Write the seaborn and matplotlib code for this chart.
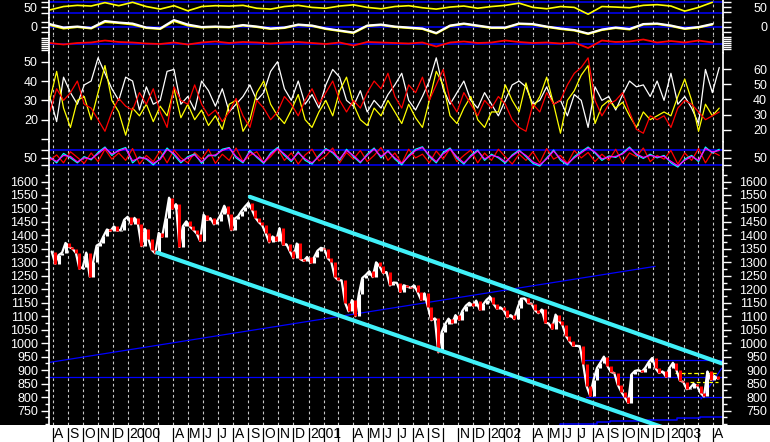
import matplotlib
matplotlib.use("Agg")
import matplotlib.pyplot as plt
import matplotlib.dates as mdates
import matplotlib.transforms as mtransforms
import seaborn as sns
import numpy as np
import pandas as pd
from matplotlib.patches import Rectangle
from matplotlib.lines import Line2D

# ---- price: weekly closes, Jul 30 1999 .. Apr 11 2003 ----
close = [
    # 1999
    1340, 1295, 1327, 1336, 1372, 1357, 1351, 1335, 1277, 1282, 1336, 1247, 1301, 1362,
    1370, 1397, 1422, 1416, 1433, 1417, 1421, 1458, 1469,
    # 2000
    1441, 1465, 1441, 1360, 1424, 1387, 1346, 1333, 1409, 1395, 1464, 1540, 1499,
    1516, 1357, 1434, 1452, 1433, 1421, 1407, 1379, 1477, 1457, 1464, 1441, 1455,
    1478, 1510, 1481, 1419, 1462, 1471, 1491, 1507, 1521, 1495, 1466, 1449, 1437,
    1408, 1374, 1396, 1379, 1427, 1365, 1367, 1341, 1315, 1370, 1312, 1305, 1320,
    # 2001
    1298, 1318, 1343, 1354, 1350, 1315, 1302, 1246, 1234, 1233, 1150, 1118, 1160,
    1100, 1183, 1242, 1253, 1267, 1245, 1300, 1285, 1260, 1264, 1214, 1225, 1224,
    1190, 1215, 1210, 1205, 1214, 1190, 1161, 1185, 1134, 1085, 1092, 966, 1041,
    1071, 1091, 1073, 1104, 1087, 1120, 1139, 1150, 1139, 1158, 1124, 1144, 1161,
    # 2002
    1172, 1146, 1128, 1133, 1122, 1096, 1104, 1089, 1132, 1165, 1166, 1148, 1147,
    1122, 1111, 1125, 1076, 1073, 1054, 1106, 1083, 1067, 1027, 1007, 990, 990,
    989, 921, 840, 805, 864, 908, 928, 950, 916, 893, 889, 846, 820,
    800, 778, 884, 897, 900, 894, 909, 930, 945, 906, 889, 895, 875,
    # 2003
    908, 927, 901, 861, 856, 829, 834, 849, 841, 815, 802, 895, 863, 878, 868,
]

# ---- trend lines drawn on the price panel ----
upper_chan_dates = ["2000-09-04", "2003-04-19"]
upper_chan_vals = [1543, 925]
lower_chan_dates = ["2000-02-29", "2002-12-20"]
lower_chan_vals = [1336, 688]
rising_dates = ["1999-07-20", "2002-12-05"]
rising_vals = [927, 1285]
mid_line_dates = ["1999-07-20", "2003-04-25"]
mid_line_vals = [873, 873]
top_line_dates = ["2002-07-10", "2003-04-25"]
top_line_vals = [936, 936]
low_line_dates = ["2002-07-18", "2003-04-25"]
low_line_vals = [799, 799]
short_up_dates = ["2003-03-08", "2003-04-19"]
short_up_vals = [793, 907]
slow_avg_dates = ["2002-04-10", "2002-05-26", "2002-08-10", "2002-09-05", "2002-11-11",
                  "2003-01-19", "2003-03-06", "2003-04-25"]
slow_avg_vals = [693, 699, 706, 711, 715, 721, 726, 729]
yel_hi_dates = ["2003-01-15", "2003-04-12"]
yel_hi_vals = [890, 890]
yel_lo_dates = ["2003-02-14", "2003-04-12"]
yel_lo_vals = [856, 856]

# ---- slow indicators (28-day steps from Jul 26 1999) ----
yellow1 = [35, 55, 62, 58, 78, 60, 80, 55, 40, 60, 30, 55, 60, 58, 62, 45, 40, 55, 62, 50,
           45, 58, 65, 50, 42, 55, 60, 48, 40, 52, 58, 45, 55, 62, 75, 50, 42, 55, 50, 10,
           55, 52, 48, 62, 66, 58, 28, 50, 80]
white2 = [2.5, -1, 0, -1.5, 5.5, 4, 3, -1, -2, 6.5, 2, -0.5, 0, -0.5, 1.5, 0, -2, -1, 2, 1,
          -2, -4, -6, 1, 2, 0, -1, -2, -6.5, 1, 3, 1, -1, -1, 3, 2.5, 0, -2, -3.5, -7,
          -3, -1, -2.5, 2.5, 3, 1, -2, -0.5, 2.5]
yellow2 = [1.5, -2, -0.5, -2, 4.5, 3.5, 2, -1.5, -2.5, 5.5, 1, -1, -0.5, -1, 1, -0.5, -2.5, -1.5, 1.5, 0.5,
           -2.5, -4.5, -6.5, 0.5, 1.5, -0.5, -1.5, -2.5, -7, 0.5, 2.5, 0.5, -1.5, -1.5, 2.5, 2, -0.5, -2.5, -4, -7.5,
           -3.5, -1.5, -3, 2, 2.5, 0.5, -2.5, -1, 2]
red3 = [0.5, -1, 0.5, 1, 3, 1.5, 1, 0, -0.5, 1, -1, 1, 2, 0.5, 1.5, 1, 0, 1, 1.5, 0.5,
        -0.5, 1, -2, 1.5, 1, 0.5, 0, 1, -3, 1, 2, 0.5, 1, 3, 1.5, 0.5, 1, 0, 1, -4.5,
        3, 1.5, 2, 4, 1, 2.5, 1, 3, 1]

# ---- fast oscillators (14-day steps from Jul 26 1999) ----
white4 = [32, 19, 42, 34, 28, 38, 40, 52, 44, 36, 30, 42, 40, 25, 37, 28, 30, 45, 46, 28,
          32, 25, 40, 35, 27, 36, 24, 28, 32, 38, 30, 34, 45, 50, 36, 30, 40, 28, 33, 26,
          38, 46, 42, 30, 27, 35, 24, 30, 26, 33, 38, 44, 30, 25, 32, 40, 52, 36, 28, 34,
          40, 30, 26, 34, 28, 22, 30, 38, 40, 37, 28, 30, 37, 28, 30, 22, 33, 30, 16, 37,
          30, 32, 25, 33, 40, 37, 38, 32, 40, 30, 44, 28, 32, 26, 18, 46, 34, 47]
yellow4 = [30, 45, 26, 16, 30, 32, 20, 34, 48, 30, 24, 12, 26, 22, 28, 19, 27, 22, 36, 21,
           28, 20, 25, 17, 22, 15, 28, 30, 14, 20, 34, 40, 28, 22, 18, 25, 33, 20, 16, 24,
           30, 22, 35, 42, 28, 20, 17, 26, 22, 30, 24, 18, 28, 21, 16, 30, 45, 38, 22, 18,
           26, 32, 20, 16, 24, 24, 38, 30, 24, 39, 26, 32, 42, 28, 13, 30, 35, 43, 48, 18,
           27, 30, 26, 29, 22, 16, 24, 20, 22, 24, 22, 32, 41, 30, 14, 28, 22, 26]
red4 = [24, 36, 30, 34, 40, 28, 26, 20, 14, 24, 31, 27, 25, 34, 28, 36, 24, 16, 37, 30,
        28, 38, 28, 22, 25, 19, 24, 31, 22, 16, 30, 26, 20, 24, 32, 28, 22, 30, 36, 28,
        34, 40, 30, 24, 30, 26, 34, 40, 36, 44, 32, 26, 38, 34, 42, 30, 38, 46, 30, 24,
        34, 28, 22, 30, 26, 32, 28, 20, 16, 14, 28, 24, 34, 28, 30, 38, 44, 47, 52, 30,
        22, 28, 30, 34, 24, 15, 13, 22, 20, 22, 16, 26, 30, 28, 24, 20, 22, 24]
cyan5 = [54, 30, 68, 50, 30, 55, 42, 72, 94, 60, 82, 92, 30, 54, 45, 22, 48, 90, 62, 30,
         55, 66, 28, 62, 58, 85, 92, 50, 30, 80, 52, 28, 70, 92, 60, 35, 75, 40, 25, 60,
         88, 70, 40, 85, 55, 30, 65, 90, 50, 80, 45, 22, 60, 85, 95, 55, 30, 72, 90, 48,
         25, 60, 82, 40, 65, 50, 29, 62, 82, 55, 28, 17, 50, 82, 40, 22, 55, 75, 94, 70,
         40, 58, 52, 70, 94, 62, 48, 65, 50, 60, 30, 13, 45, 60, 35, 94, 70, 85]
magenta5 = [50, 36, 60, 56, 34, 50, 46, 66, 90, 66, 78, 88, 38, 50, 48, 28, 44, 84, 68, 36,
            50, 62, 34, 58, 62, 80, 90, 56, 34, 74, 56, 32, 64, 88, 66, 40, 70, 46, 30, 55,
            84, 74, 46, 80, 60, 34, 60, 86, 56, 76, 50, 28, 55, 80, 92, 60, 35, 66, 86, 54,
            30, 55, 78, 46, 60, 54, 34, 58, 78, 60, 34, 22, 46, 78, 46, 26, 50, 70, 90, 74,
            46, 54, 56, 66, 90, 66, 52, 60, 54, 56, 36, 18, 40, 56, 40, 88, 74, 80]
red5 = [40, 62, 30, 75, 52, 28, 70, 35, 85, 45, 70, 40, 88, 25, 60, 35, 78, 30, 82, 50,
        30, 72, 45, 85, 28, 65, 40, 90, 35, 60, 75, 30, 55, 88, 40, 70, 25, 62, 85, 38,
        58, 90, 30, 72, 45, 80, 35, 60, 92, 40, 70, 28, 85, 50, 65, 30, 78, 45, 88, 35,
        60, 82, 30, 70, 40, 85, 55, 25, 65, 40, 75, 30, 88, 45, 60, 28, 80, 50, 72, 35,
        65, 40, 85, 30, 70, 55, 90, 35, 60, 45, 80, 25, 70, 40, 88, 30, 75, 60]

month_labels = ["A", "S", "O", "N", "D",
                "2000", "", "", "A", "M", "J", "J", "A", "S", "O", "N", "D",
                "2001", "", "", "A", "M", "J", "J", "A", "S", "", "N", "D",
                "2002", "", "", "A", "M", "J", "J", "A", "S", "O", "N", "D",
                "2003", "", "", "A"]

price_dates = pd.date_range("1999-07-30", periods=len(close), freq="W-FRI")
slow_dates = pd.date_range("1999-07-26", periods=len(yellow1), freq="28D")
fast_dates = pd.date_range("1999-07-26", periods=len(white4), freq="14D")
months = pd.date_range("1999-08-01", periods=len(month_labels), freq="MS")

sns.set_theme(style="dark")
plt.rcParams["font.family"] = ["Liberation Sans", "DejaVu Sans"]

W, H = 770, 442
LEFT, RIGHT = 49, 722.7
STRIP = 17
X0, X1 = pd.Timestamp("1999-07-24 12:00"), pd.Timestamp("2003-04-21")

fig = plt.figure(figsize=(W / 100, H / 100), dpi=100, facecolor="black")


def panel(top, bottom, ylim, lticks, llabels, rlim=None, rticks=None, rlabels=None,
          minor=None):
    ax = fig.add_axes([LEFT / W, 1 - bottom / H, (RIGHT - LEFT) / W, (bottom - top) / H])
    ax.set_facecolor("black")
    ax.grid(False)
    ax.set_xlim(X0, X1)
    ax.set_ylim(*ylim)
    ax.vlines(months, ylim[0], ylim[1], colors="#c8c8c8", linestyles=(0, (2.5, 2.5)),
              lw=0.8, zorder=0)
    ax.set_xticks([])
    for s in ["top", "bottom", "right"]:
        ax.spines[s].set_visible(False)
    ax.spines["left"].set_color("white")
    ax.set_yticks(lticks, llabels)
    if minor is not None:
        ax.set_yticks(minor, minor=True)
    ax.tick_params(axis="y", which="major", colors="white", direction="out", length=6,
                   width=1, pad=2, labelsize=9, left=True)
    ax.tick_params(axis="y", which="minor", colors="white", direction="out", length=3,
                   width=1, left=True)
    axr = ax.twinx()
    axr.grid(False)
    axr.set_ylim(*(rlim if rlim else ylim))
    for s in ["top", "bottom", "left"]:
        axr.spines[s].set_visible(False)
    axr.spines["right"].set_color("white")
    axr.set_yticks(rticks if rticks else lticks, rlabels if rlabels else llabels)
    if minor is not None and rlim is None:
        axr.set_yticks(minor, minor=True)
    axr.tick_params(axis="y", which="major", colors="white", direction="out", length=6,
                    width=1, pad=26, labelsize=9, right=True)
    axr.tick_params(axis="y", which="minor", colors="white", direction="out", length=3,
                    width=1, right=True)
    for lab in axr.get_yticklabels():
        lab.set_horizontalalignment("right")
    return ax


# panel 1
ax1 = panel(0, 17.5, (-9.4, 93.5), [20, 50, 80], ["", "50", ""])
for lv in [20, 80]:
    ax1.axhline(lv, color="#0000ff", lw=1.1)
sns.lineplot(x=slow_dates, y=yellow1, ax=ax1, color="#ffff00", lw=1.2, estimator=None, sort=False)

# panel 2
ax2 = panel(17.5, 35, (-8.5, 9), [-5, 0, 5], ["", "0", ""])
ax2.axhline(0, color="#0000ff", lw=1.1)
sns.lineplot(x=slow_dates, y=yellow2, ax=ax2, color="#ffff00", lw=1.5, estimator=None, sort=False)
sns.lineplot(x=slow_dates, y=white2, ax=ax2, color="white", lw=1.5, estimator=None, sort=False)

# panel 3
ax3 = panel(35, 53, (-9.5, 8.5), [-6, -4, -2, 0, 2, 4, 6], [""] * 7)
ax3.axhline(0, color="#0000ff", lw=1.1)
sns.lineplot(x=slow_dates, y=red3, ax=ax3, color="#ff0000", lw=1.3, estimator=None, sort=False)

# panel 4
ax4 = panel(53, 142, (8.46, 54.5), [10, 20, 30, 40, 50], ["", "20", "30", "40", "50"],
            rlim=(12.1, 70.5), rticks=[20, 30, 40, 50, 60], rlabels=["20", "30", "40", "50", "60"])
sns.lineplot(x=fast_dates, y=white4, ax=ax4, color="white", lw=0.9, estimator=None, sort=False)
sns.lineplot(x=fast_dates, y=yellow4, ax=ax4, color="#ffff00", lw=0.9, estimator=None, sort=False)
sns.lineplot(x=fast_dates, y=red4, ax=ax4, color="#ff0000", lw=0.9, estimator=None, sort=False)

# panel 5
ax5 = panel(142, 170, (1.0, 114.4), [20, 50, 80], ["", "50", ""])
for lv in [20, 80]:
    ax5.axhline(lv, color="#0000ff", lw=1.1)
sns.lineplot(x=fast_dates, y=red5, ax=ax5, color="#ff0000", lw=0.9, estimator=None, sort=False)
sns.lineplot(x=fast_dates, y=cyan5, ax=ax5, color="#00ffff", lw=0.9, estimator=None, sort=False)
sns.lineplot(x=fast_dates, y=magenta5, ax=ax5, color="#ff00ff", lw=0.9, estimator=None, sort=False)

# price panel
pmaj = list(range(750, 1601, 50))
pmin = [v for v in range(700, 1650, 25) if v % 50 != 0] + [700]
ax6 = panel(170, H - STRIP, (696.2, 1642.7), pmaj, [str(v) for v in pmaj], minor=pmin)

ax6.plot(pd.to_datetime(mid_line_dates), mid_line_vals, color="#0000ff", lw=0.9)
ax6.plot(pd.to_datetime(rising_dates), rising_vals, color="#0000ff", lw=0.9)
ax6.plot(pd.to_datetime(top_line_dates), top_line_vals, color="#0000ff", lw=0.9)
ax6.plot(pd.to_datetime(low_line_dates), low_line_vals, color="#0000ff", lw=0.9)
ax6.plot(pd.to_datetime(short_up_dates), short_up_vals, color="#0000ff", lw=0.9)
ax6.plot(pd.to_datetime(slow_avg_dates), slow_avg_vals, color="#0000ff", lw=1.1,
         drawstyle="steps-post")
ax6.plot(pd.to_datetime(yel_hi_dates), yel_hi_vals, color="#ffff00", lw=0.9, ls=(0, (3, 2)))
ax6.plot(pd.to_datetime(yel_lo_dates), yel_lo_vals, color="#ffff00", lw=0.9, ls=(0, (3, 2)))

# close line with up (white) / down (red) weekly bars on it
sns.lineplot(x=price_dates, y=close, ax=ax6, color="white", lw=1.6, estimator=None,
             sort=False, zorder=3)
prev = np.array(close[:-1])
cur = np.array(close[1:])
bar_colors = np.where(cur >= prev, "white", "#ff0000")
ax6.vlines(price_dates[1:], np.minimum(prev, cur), np.maximum(prev, cur),
           colors=bar_colors, lw=2.2, zorder=3)

ax6.plot(pd.to_datetime(upper_chan_dates), upper_chan_vals, color="#40f0f8", lw=3.0, zorder=4)
ax6.plot(pd.to_datetime(lower_chan_dates), lower_chan_vals, color="#40f0f8", lw=3.0, zorder=4)

# month strip along the bottom, drawn on the figure itself
fig.add_artist(Rectangle((0, 0), 1, STRIP / H, transform=fig.transFigure,
                         facecolor="white", edgecolor="none", zorder=10))
strip_tr = mtransforms.blended_transform_factory(ax6.transData, fig.transFigure)
for d, lab in zip(months, month_labels):
    xn = mdates.date2num(d)
    fig.add_artist(Line2D([xn, xn], [0, 14.5 / H], transform=strip_tr, color="black",
                          lw=0.9, zorder=11))
    if lab:
        fig.text(mdates.date2num(d + pd.Timedelta(days=3)), 8 / H, lab, transform=strip_tr,
                 ha="left", va="center", fontsize=10, color="black", zorder=12)

fig.savefig("out.png", dpi=100, facecolor="black")
